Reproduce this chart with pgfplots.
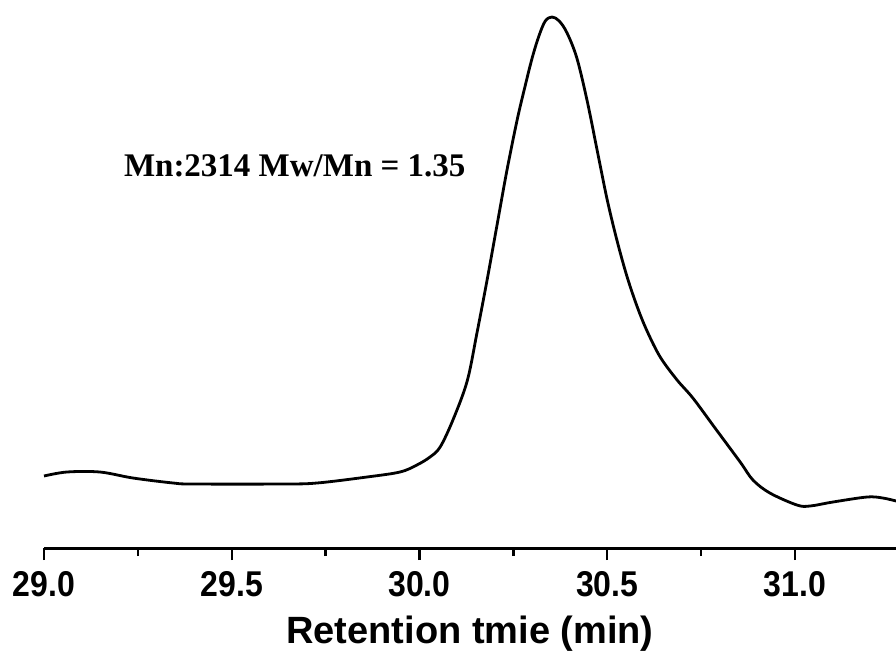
\documentclass[border=0pt]{standalone}
\usepackage{pgfplots}
\pgfplotsset{compat=1.18}
\usepackage{fontspec}
\setmainfont{Liberation Serif}
\newfontfamily\arial{Liberation Sans}
\begin{document}
\begin{tikzpicture}
\begin{axis}[
  scale only axis,
  width=426pt, height=274pt,
  xmin=29, xmax=31.269, ymin=0, ymax=548,
  axis x line*=bottom,
  hide y axis,
  axis line style={line width=1.5pt},
  xtick={29,29.5,30,30.5,31},
  minor x tick num=1,
  tick align=outside,
  major tick length=6pt,
  minor tick length=4pt,
  every tick/.style={line width=1.2pt, black},
  x tick label style={font=\arial\bfseries\fontsize{16}{16}\selectfont, /pgf/number format/assume math mode=true, yshift=-2pt},
  xticklabel={\scalebox{1}[1.12]{\pgfmathprintnumber[fixed,precision=1,zerofill]{\tick}}},
  xlabel={Retention tmie (min)},
  xlabel style={font=\arial\bfseries\fontsize{19}{19}\selectfont, at={(rel axis cs:0.5,0)}, anchor=center, yshift=-43pt},
  clip=false,
]
\addplot[black, line width=1.4pt, smooth, tension=0.55] coordinates {
(29.000,72) (29.061,76) (29.149,76) (29.237,70) (29.344,65) (29.397,64)
(29.636,64) (29.727,65) (29.860,71) (29.948,76) (29.993,83) (30.028,91)
(30.055,101) (30.089,128) (30.127,167) (30.153,215) (30.180,268) (30.206,322)
(30.233,378) (30.260,428) (30.280,460) (30.300,490) (30.318,512) (30.335,527)
(30.353,531) (30.372,527) (30.393,515) (30.419,490) (30.446,448) (30.473,398)
(30.500,348) (30.527,306) (30.553,271) (30.580,241) (30.606,217) (30.641,191)
(30.686,168) (30.728,150) (30.787,120) (30.854,86) (30.888,68) (30.933,55)
(31.005,43) (31.040,42) (31.101,46) (31.192,51) (31.234,50) (31.269,47)
};
\node[anchor=west, font=\bfseries\fontsize{16.5}{16.5}\selectfont, inner sep=0pt] at (axis cs:29.212,382) {Mn:2314 Mw/Mn = 1.35};
\end{axis}
\pgfresetboundingbox
\path (current axis.south west) ++(-22pt,-59pt) coordinate (bl);
\path (bl) rectangle (current axis.north east);
\end{tikzpicture}
\end{document}
